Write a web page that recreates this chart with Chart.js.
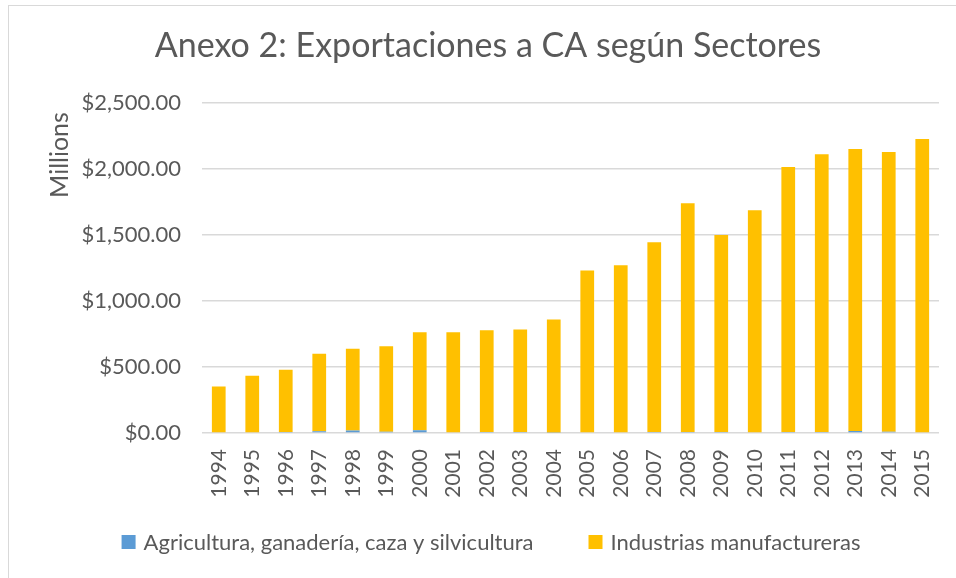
<!DOCTYPE html>
<html>
<head>
<meta charset="utf-8">
<script src="https://cdn.jsdelivr.net/npm/chart.js@4/dist/chart.umd.min.js"></script>
<style>
  html, body { margin: 0; padding: 0; background: #fff; overflow: hidden; }
  #wrap { position: relative; width: 956px; height: 578px; }
  #frame { position: absolute; left: 8px; top: 5px; right: -10px; bottom: -10px;
           border-top: 1px solid #d9d9d9; border-left: 1px solid #d9d9d9; }
  canvas { position: absolute; left: 0; top: 0; }
</style>
</head>
<body>
<div id="wrap">
  <div id="frame"></div>
  <canvas id="chart" width="956" height="578"></canvas>
</div>
<script>
// Data (millions of USD)
const years = ["1994", "1995", "1996", "1997", "1998", "1999", "2000", "2001", "2002", "2003", "2004",
               "2005", "2006", "2007", "2008", "2009", "2010", "2011", "2012", "2013", "2014", "2015"];
const agricultura = [6, 6, 7, 14, 18, 9, 20, 6, 7, 7, 3,
                     6, 6, 7, 7, 7, 6, 7, 7, 15, 10, 6];
const manufactura = [346, 427, 472, 586, 620, 647, 742, 756, 770, 776, 856,
                     1225, 1265, 1437, 1733, 1493, 1681, 2007, 2103, 2135, 2118, 2220];
const yTicks = [0, 500, 1000, 1500, 2000, 2500];

const textColor = "#595959";
const fontFamily = "Lato, 'Open Sans', sans-serif";

// "Millions" display-unit label, Excel puts it near the top of the axis
const unitLabel = {
  id: "unitLabel",
  afterDraw(chart) {
    const c = chart.ctx;
    c.save();
    c.translate(60, 155);
    c.rotate(-Math.PI / 2);
    c.fillStyle = textColor;
    c.font = "25px " + fontFamily;
    c.textAlign = "center";
    c.textBaseline = "middle";
    c.fillText("Millions", 0, 0);
    c.restore();
  }
};

// legend with the wide gap Excel uses between entries
const wideLegend = {
  id: "wideLegend",
  afterDraw(chart) {
    const c = chart.ctx;
    const box = 14, gap = 8, spacing = 55, y = 542, centre = 491;
    c.save();
    c.font = "22px " + fontFamily;
    c.textBaseline = "middle";
    const items = chart.data.datasets.map(ds => ({
      text: ds.label, color: ds.backgroundColor, w: c.measureText(ds.label).width
    }));
    let total = items.reduce((s, it) => s + box + gap + it.w, 0) + spacing * (items.length - 1);
    let x = centre - total / 2;
    items.forEach(it => {
      c.fillStyle = it.color;
      c.fillRect(x, y - box / 2, box, box);
      c.fillStyle = textColor;
      c.fillText(it.text, x + box + gap, y + 1);
      x += box + gap + it.w + spacing;
    });
    c.restore();
  }
};

const ctx = document.getElementById("chart").getContext("2d");
const chart = new Chart(ctx, {
  type: "bar",
  data: {
    labels: years,
    datasets: [
      {
        label: "Agricultura, ganadería, caza y silvicultura",
        data: agricultura,
        backgroundColor: "#5B9BD5",
        barPercentage: 0.41,
        categoryPercentage: 1
      },
      {
        label: "Industrias manufactureras",
        data: manufactura,
        backgroundColor: "#FFC000",
        barPercentage: 0.41,
        categoryPercentage: 1
      }
    ]
  },
  options: {
    responsive: false,
    animation: false,
    layout: { padding: { left: 37, right: 17, top: 8, bottom: 68 } },
    plugins: {
      title: {
        display: true,
        text: "Anexo 2: Exportaciones a CA según Sectores",
        color: textColor,
        font: { family: fontFamily, size: 34, weight: "normal" },
        padding: { top: 18, bottom: 36 }
      },
      legend: { display: false },
      tooltip: { enabled: false }
    },
    scales: {
      x: {
        stacked: true,
        grid: { display: false },
        border: { display: false },
        ticks: {
          color: textColor,
          font: { family: fontFamily, size: 21 },
          minRotation: 90,
          maxRotation: 90,
          padding: 8
        },
        afterFit(scale) { scale.height = 77; }
      },
      y: {
        stacked: true,
        min: 0,
        max: 2500,
        afterBuildTicks(scale) { scale.ticks = yTicks.map(v => ({ value: v })); },
        grid: { color: "#d9d9d9", lineWidth: 1.5, drawTicks: false },
        border: { display: false },
        ticks: {
          color: textColor,
          font: { family: fontFamily, size: 22 },
          padding: 21,
          callback: v => "$" + v.toLocaleString("en-US", { minimumFractionDigits: 2, maximumFractionDigits: 2 })
        },
        afterFit(scale) { scale.width = 165; }
      }
    }
  },
  plugins: [unitLabel, wideLegend]
});
</script>
</body>
</html>
